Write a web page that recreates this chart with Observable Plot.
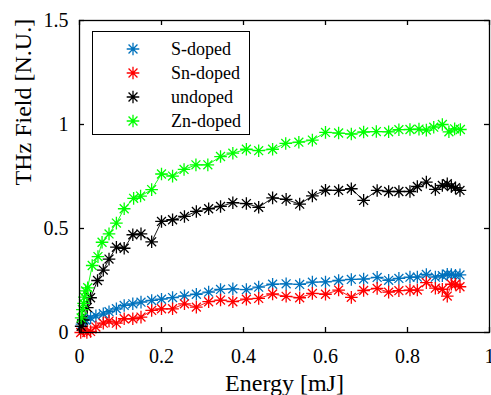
<!DOCTYPE html>
<html><head><meta charset="utf-8">
<script src="https://cdn.jsdelivr.net/npm/d3@7"></script>
<script src="https://cdn.jsdelivr.net/npm/@observablehq/plot@0.6"></script>
<style>
html,body{margin:0;padding:0;background:#fff;}
#wrap{position:relative;width:491px;height:395px;overflow:hidden;}
#wrap, #wrap svg text, .row{font-family:'Liberation Serif','Tinos','Times New Roman','Times','Nimbus Roman','Nimbus Roman No9 L','FreeSerif','Noto Serif','DejaVu Serif',serif;}
#legend{position:absolute;left:92px;top:31px;width:158px;height:104px;border:1.3px solid #000;background:#fff;box-sizing:border-box;}
.row{position:absolute;left:0;height:24px;width:100%;font-size:18px;line-height:24px;color:#000;}
.row svg{position:absolute;left:32px;top:4px;}
.row span{position:absolute;left:78px;top:0;}
</style></head>
<body><div id="wrap"><div id="chart"></div><div id="legend"></div></div>
<script>
// ---- data ----
const seriesNames = ["S-doped", "Sn-doped", "undoped", "Zn-doped"];
const seriesColors = ["#0072BD", "#FF0000", "#000000", "#00FF00"];

const sEnergy = [0.006,0.015,0.027,0.040,0.058,0.072,0.090,0.109,0.130,0.150,0.176,0.200,0.227,0.256,0.285,0.315,0.344,0.374,0.407,0.437,0.471,0.504,0.537,0.568,0.600,0.632,0.663,0.693,0.726,0.754,0.779,0.806,0.824,0.846,0.868,0.885,0.897,0.907,0.917,0.928];
const sField = [0.04,0.06,0.07,0.08,0.09,0.10,0.114,0.13,0.138,0.146,0.154,0.16,0.168,0.176,0.184,0.194,0.207,0.21,0.206,0.218,0.232,0.234,0.231,0.242,0.243,0.25,0.255,0.257,0.265,0.251,0.26,0.266,0.266,0.279,0.266,0.273,0.28,0.279,0.275,0.277];

const snEnergy = [0.003,0.010,0.018,0.027,0.040,0.058,0.072,0.090,0.109,0.130,0.150,0.176,0.200,0.227,0.256,0.285,0.315,0.344,0.374,0.407,0.437,0.471,0.504,0.537,0.568,0.600,0.632,0.663,0.693,0.726,0.754,0.779,0.806,0.824,0.846,0.868,0.885,0.897,0.907,0.917,0.928];
const snField = [0.0,0.012,0.0,0.005,0.026,0.045,0.055,0.045,0.066,0.066,0.074,0.106,0.114,0.114,0.138,0.122,0.148,0.156,0.148,0.16,0.164,0.185,0.174,0.167,0.188,0.184,0.204,0.169,0.202,0.212,0.194,0.201,0.204,0.204,0.24,0.213,0.208,0.175,0.232,0.232,0.22];

const unEnergy = [0.004,0.009,0.019,0.027,0.044,0.058,0.072,0.090,0.109,0.130,0.150,0.176,0.200,0.227,0.256,0.285,0.315,0.344,0.374,0.407,0.437,0.471,0.504,0.537,0.568,0.600,0.632,0.663,0.693,0.726,0.754,0.779,0.806,0.824,0.846,0.868,0.885,0.897,0.907,0.917,0.928];
const unField = [0.03,0.06,0.12,0.167,0.25,0.30,0.353,0.41,0.405,0.47,0.474,0.436,0.534,0.542,0.558,0.582,0.595,0.606,0.624,0.62,0.602,0.647,0.64,0.617,0.657,0.684,0.683,0.691,0.635,0.683,0.678,0.678,0.678,0.702,0.723,0.688,0.707,0.715,0.702,0.696,0.683];

const znEnergy = [0.004,0.007,0.010,0.012,0.015,0.020,0.031,0.045,0.055,0.072,0.090,0.109,0.132,0.149,0.176,0.200,0.227,0.255,0.284,0.313,0.344,0.374,0.407,0.437,0.471,0.503,0.535,0.568,0.600,0.632,0.663,0.693,0.724,0.754,0.779,0.806,0.828,0.846,0.864,0.885,0.901,0.915,0.929];
const znField = [0.07,0.11,0.14,0.17,0.20,0.215,0.322,0.365,0.434,0.474,0.526,0.595,0.645,0.656,0.687,0.762,0.752,0.784,0.806,0.806,0.846,0.862,0.881,0.874,0.881,0.909,0.915,0.925,0.962,0.959,0.954,0.964,0.966,0.965,0.975,0.976,0.978,0.973,0.987,1.0,0.965,0.979,0.976];

const xTicks = [0, 0.2, 0.4, 0.6, 0.8, 1];
const xTickLabels = ["0", "0.2", "0.4", "0.6", "0.8", "1"];
const yTicks = [0, 0.5, 1, 1.5];
const yTickLabels = ["0", "0.5", "1", "1.5"];
const xLabel = "Energy [mJ]";
const yLabel = "THz Field [N.U.]";

// ---- build table ----
const energies = [sEnergy, snEnergy, unEnergy, znEnergy];
const fields = [sField, snField, unField, znField];
const rows = [];
seriesNames.forEach((name, k) => {
  energies[k].forEach((e, i) => rows.push({series: name, energy: e, field: fields[k][i]}));
});

// MATLAB-style 8-arm asterisk
const star8 = {
  draw(ctx, size) {
    const r = Math.sqrt(size / Math.PI), d = r * Math.SQRT1_2;
    ctx.moveTo(-r, 0); ctx.lineTo(r, 0);
    ctx.moveTo(0, -r); ctx.lineTo(0, r);
    ctx.moveTo(-d, -d); ctx.lineTo(d, d);
    ctx.moveTo(-d, d); ctx.lineTo(d, -d);
  }
};

const W = 491, H = 395, ML = 79, MR = 2, MT = 20, MB = 63;
const PW = W - ML - MR, PH = H - MT - MB;
const FONT = "'Liberation Serif', 'Tinos', 'Times New Roman', 'DejaVu Serif', serif";

const seriesMarks = [];
seriesNames.forEach((name) => {
  const data = rows.filter(d => d.series === name);
  seriesMarks.push(Plot.line(data, {x: "energy", y: "field", stroke: "series", strokeWidth: 0.9}));
  seriesMarks.push(Plot.dot(data, {x: "energy", y: "field", stroke: "series", fill: "none", symbol: star8, r: 6.3, strokeWidth: 1.3}));
});

const chart = Plot.plot({
  width: W, height: H,
  marginLeft: ML, marginRight: MR, marginTop: MT, marginBottom: MB,
  style: {fontFamily: FONT, background: "#fff", color: "#000"},
  x: {domain: [0, 1]},
  y: {domain: [0, 1.5]},
  color: {domain: seriesNames, range: seriesColors},
  marks: [
    ...seriesMarks,
    Plot.frame({stroke: "#000", strokeWidth: 1.3}),
    Plot.tickX(xTicks, {x: d => d, insetTop: PH - 5, stroke: "#000", strokeWidth: 1.3}),
    Plot.tickX(xTicks, {x: d => d, insetBottom: PH - 5, stroke: "#000", strokeWidth: 1.3}),
    Plot.tickY(yTicks, {y: d => d, insetRight: PW - 5, stroke: "#000", strokeWidth: 1.3}),
    Plot.tickY(yTicks, {y: d => d, insetLeft: PW - 5, stroke: "#000", strokeWidth: 1.3}),
    Plot.axisX(xTicks, {tickSize: 0, tickPadding: 16, label: null, fontSize: 20, tickFormat: d => xTickLabels[xTicks.indexOf(d)]}),
    Plot.axisY(yTicks, {tickSize: 0, tickPadding: 11, label: null, fontSize: 20, tickFormat: d => yTickLabels[yTicks.indexOf(d)]}),
    Plot.text([xLabel], {frameAnchor: "bottom", lineAnchor: "bottom", dy: 58, fontSize: 24, fill: "#000"}),
    Plot.text([yLabel], {frameAnchor: "left", rotate: -90, dx: -56, dy: 9, fontSize: 24, fill: "#000"})
  ]
});
document.getElementById("chart").appendChild(chart);

// ---- legend ----
const legend = document.getElementById("legend");
seriesNames.forEach((name, i) => {
  const row = document.createElement("div");
  row.className = "row";
  row.style.top = (5 + 24 * i) + "px";
  const p = d3.path();
  star8.draw(p, Math.PI * 6.3 * 6.3);
  row.innerHTML = `<svg width="16" height="16" viewBox="-8 -8 16 16"><path d="${p.toString()}" stroke="${seriesColors[i]}" stroke-width="1.3" fill="none"/></svg><span>${name}</span>`;
  legend.appendChild(row);
});
</script>
</body></html>
